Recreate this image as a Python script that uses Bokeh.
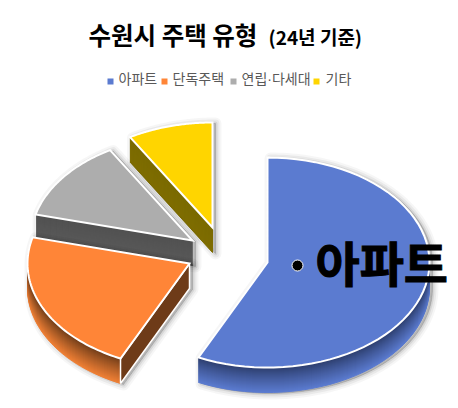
import math
from bokeh.plotting import figure
from bokeh.models import Range1d
from bokeh.core.properties import value
from bokeh.embed import file_html
from bokeh.resources import INLINE

categories = ["아파트", "단독주택", "연립·다세대", "기타"]
shares = [57.0, 22.0, 12.5, 8.5]
colors = ["#5B7BD0", "#FF8537", "#ADADAD", "#FFD500"]
wall_top = ["#2B3C6A", "#6B3A18", "#505050", "#7A6A00"]
wall_bottom = ["#5B7BD0", "#F08035", "#5A5A5A", "#7F6D00"]
title_main = "수원시 주택 유형"
title_sub = "(24년 기준)"
callout = "아파트"

# layout
centers = [(267, 262), (189, 263), (192, 240), (212, 227)]
RX, RY, DEPTH = 162, 105, 25
legend_sq_x = [110, 164, 233, 316]
legend_tx_x = [118, 172, 241, 325]
FONT = value("Noto Sans CJK KR")
LEGEND_FONT = value("Liberation Sans, Noto Sans CJK KR")

p = figure(width=458, height=408, output_backend="svg", toolbar_location=None,
           x_range=Range1d(0, 458), y_range=Range1d(408, 0), min_border=0)
p.axis.visible = False
p.grid.visible = False
p.outline_line_color = None
p.background_fill_color = "white"


def arc(c, a0, a1, dy=0, n=60):
    xs, ys = [], []
    for i in range(n + 1):
        a = math.radians(a0 + (a1 - a0) * i / n)
        xs.append(c[0] + RX * math.sin(a))
        ys.append(c[1] - RY * math.cos(a) + dy)
    return xs, ys


def hull(pts):
    pts = sorted(set(pts))
    def half(seq):
        out = []
        for q in seq:
            while len(out) > 1 and ((out[-1][0]-out[-2][0])*(q[1]-out[-2][1]) - (out[-1][1]-out[-2][1])*(q[0]-out[-2][0])) <= 0:
                out.pop()
            out.append(q)
        return out[:-1]
    return half(pts) + half(pts[::-1])


def mix(a, b, t):
    ca = [int(a[i:i+2], 16) for i in (1, 3, 5)]
    cb = [int(b[i:i+2], 16) for i in (1, 3, 5)]
    return "#%02x%02x%02x" % tuple(round(x + (y - x) * t) for x, y in zip(ca, cb))


total = sum(shares)
bounds = [0.0]
for s in shares:
    bounds.append(bounds[-1] + 360 * s / total)


def shadow(xs, ys):
    for w, al in ((12, 0.035), (8, 0.05), (4, 0.08), (1, 0.12)):
        p.patch([x + 3 for x in xs], [y + 1 for y in ys], fill_color="#000000", fill_alpha=0.04,
                line_color="#000000", line_alpha=al, line_width=w, line_join="round")


for k in [0, 3, 2, 1]:
    c, a0, a1 = centers[k], bounds[k], bounds[k + 1]
    ax, ay = arc(c, a0, a1)
    top_x, top_y = [c[0]] + ax, [c[1]] + ay
    if k == 0:
        x1, y1 = arc(c, a0, 90)
        x2, y2 = arc(c, 90, a1, DEPTH)
        sx = [c[0]] + x1 + x2 + [ax[-1]]
        sy = [c[1]] + y1 + y2 + [ay[-1]]
    else:
        h = hull([(round(x, 2), round(y, 2)) for x, y in zip(top_x, top_y)] +
                 [(round(x, 2), round(y + DEPTH, 2)) for x, y in zip(top_x, top_y)])
        sx, sy = [q[0] for q in h], [q[1] for q in h]
    shadow(sx, sy)
    for d in range(DEPTH, 0, -1):
        col = mix(wall_top[k], wall_bottom[k], (d / DEPTH) ** 0.85)
        p.patch(top_x, [y + d for y in top_y], fill_color=col, line_color=col, line_width=1)
    if k == 1:
        p.patch([c[0], ax[0], ax[0], c[0]], [c[1], ay[0], ay[0] + DEPTH, c[1] + DEPTH],
                fill_color="#6E3B18", line_color="white", line_width=1.5)
    if k == 2:
        p.line([ax[0], ax[0]], [ay[0], ay[0] + DEPTH], line_color="white", line_width=1)
    p.patch(top_x, top_y, fill_color=colors[k], line_color="white", line_width=2, line_join="miter")

# callout
p.scatter([297], [265], marker="circle", size=11, fill_color="black", line_color="white", line_width=1)
p.text([315], [260], text=[callout], text_font=FONT, text_font_size="48px", text_font_style="bold",
       text_color="black", text_baseline="middle", text_align="left",
       text_outline_color="black")

# title
p.text([88], [34], text=[title_main], text_font=FONT, text_font_size="24.5px", text_font_style="bold",
       text_color="black", text_baseline="middle")
p.text([268], [36], text=[title_sub], text_font=FONT, text_font_size="19px", text_font_style="bold",
       text_color="black", text_baseline="middle")

# legend
p.scatter(legend_sq_x, [81] * 4, marker="square", size=6, fill_color=colors, line_color=None)
p.text(legend_tx_x, [78] * 4, text=categories, text_font=LEGEND_FONT, text_font_size="14px",
       text_color="#595959", text_baseline="middle")

open("out.html", "w").write(file_html(p, INLINE))
